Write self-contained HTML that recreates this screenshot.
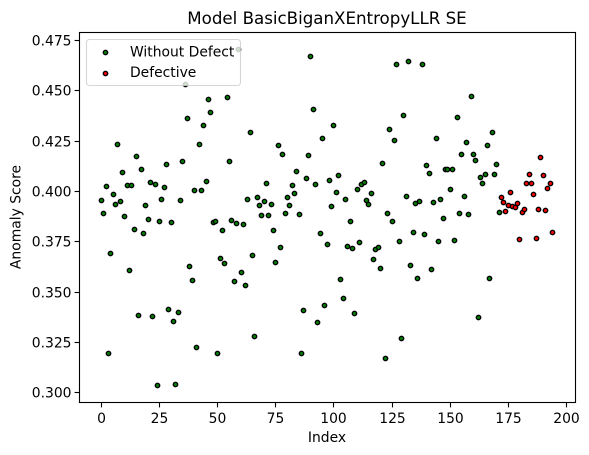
<!DOCTYPE html>
<html>
<head>
<meta charset="utf-8">
<style>
html,body{margin:0;padding:0;background:#fff;}
svg{display:block;}
text{font-family:"DejaVu Sans","Liberation Sans",sans-serif;fill:#000;}
</style>
</head>
<body>
<svg id="chart" xmlns="http://www.w3.org/2000/svg" width="589" height="455" viewBox="0 0 589 455">
  <text x="327" y="24" font-size="16.67" text-anchor="middle">Model BasicBiganXEntropyLLR SE</text>
  <text x="327" y="442" font-size="13.89" text-anchor="middle">Index</text>
  <text transform="translate(20.5,217) rotate(-90)" font-size="13.89" text-anchor="middle">Anomaly Score</text>
  <g id="ticks"></g>
  <g id="points"></g>
  <rect x="79.5" y="32.5" width="496" height="370" fill="none" stroke="#000" stroke-width="1.11"/>
  <g>
    <rect x="86.5" y="39.5" width="154" height="46" rx="3" ry="3" fill="#fff" fill-opacity="0.8" stroke="#ccc" stroke-opacity="0.8" stroke-width="1.11"/>
    <circle cx="105.5" cy="52.5" r="2.2" fill="#008000" stroke="#000" stroke-width="1.39"/>
    <text x="130" y="56.5" font-size="13.89">Without Defect</text>
    <circle cx="105.5" cy="73.5" r="2.2" fill="#ff0000" stroke="#000" stroke-width="1.39"/>
    <text x="130" y="77" font-size="13.89">Defective</text>
  </g>
</svg>
<script>
const withoutDefectScores = [
0.3954,0.3890,0.4024,0.3194,0.3691,0.3984,0.3934,0.4233,0.3949,0.4093,
0.3875,0.4029,0.3606,0.4029,0.3810,0.4173,0.3383,0.4108,0.3790,0.3929,
0.3860,0.4044,0.3378,0.4034,0.3035,0.3850,0.3959,0.4019,0.4133,0.3413,
0.3845,0.3353,0.3040,0.3398,0.3954,0.4148,0.4531,0.4362,0.3626,0.3557,
0.4004,0.3224,0.4233,0.4004,0.4327,0.4049,0.4456,0.4392,0.3845,0.3850,
0.3194,0.3666,0.3805,0.3641,0.4466,0.4148,0.3855,0.3552,0.3840,0.4706,
0.3596,0.3835,0.3532,0.3959,0.4292,0.3681,0.3278,0.3969,0.3929,0.3880,
0.3949,0.4039,0.3880,0.3934,0.3805,0.3646,0.4228,0.3721,0.4183,0.3890,
0.3969,0.3929,0.4029,0.3989,0.4098,0.3885,0.3194,0.3408,0.4064,0.4178,
0.4670,0.4407,0.4034,0.3348,0.3790,0.4262,0.3432,0.3736,0.4054,0.3924,
0.4327,0.3994,0.4079,0.3562,0.3467,0.3959,0.3726,0.3850,0.3716,0.3393,
0.4009,0.3746,0.4034,0.4044,0.3954,0.3934,0.3989,0.3661,0.3711,0.3721,
0.3616,0.4138,0.3169,0.3890,0.4307,0.3850,0.4252,0.4630,0.3750,0.3268,
0.4377,0.3974,0.4645,0.3631,0.3795,0.3939,0.3567,0.3949,0.4630,0.3785,
0.4128,0.4088,0.3611,0.3944,0.4262,0.3750,0.3959,0.3865,0.4108,0.4108,
0.4009,0.4108,0.3755,0.4367,0.3890,0.4183,0.3974,0.4243,0.3885,0.4471,
0.4183,0.4153,0.3373,0.4069,0.4039,0.4083,0.4228,0.3567,0.4292,0.4083,
0.4133,0.3895];
const defectiveScores = [
0.3969,0.3944,0.3900,0.3929,0.3994,0.3924,0.3919,0.3939,0.3760,0.3895,
0.3910,0.4039,0.4083,0.4039,0.3984,0.3765,0.3910,0.4168,0.4079,0.3905,
0.4014,0.4039,0.3795];
const xTickLabels = ["0","25","50","75","100","125","150","175","200"];
const yTickLabels = ["0.300","0.325","0.350","0.375","0.400","0.425","0.450","0.475"];

const NS = "http://www.w3.org/2000/svg";
function xScale(v){ return 101.55 + v * 2.3244; }
function yScale(v){ return 392.3 - (v - 0.3) * 2012; }
function snapX(v){ return Math.floor(xScale(v)) + 0.5; }
function snapY(v){ return Math.round(yScale(v)) + 0.5; }

const ticksGroup = document.getElementById("ticks");
const pointsGroup = document.getElementById("points");

xTickLabels.forEach(function(label){
  const px = snapX(Number(label));
  const line = document.createElementNS(NS, "line");
  
  
  line.setAttribute("x1", px); line.setAttribute("x2", px);
  line.setAttribute("y1", 402.5); line.setAttribute("y2", 407.4);
  line.setAttribute("stroke", "#000"); line.setAttribute("stroke-width", "1.11");
  ticksGroup.appendChild(line);
  const text = document.createElementNS(NS, "text");
  
  
  text.setAttribute("x", px); text.setAttribute("y", 423);
  text.setAttribute("font-size", "13.89"); text.setAttribute("text-anchor", "middle");
  text.textContent = label;
  ticksGroup.appendChild(text);
});

yTickLabels.forEach(function(label){
  const py = snapY(Number(label));
  const line = document.createElementNS(NS, "line");
  
  
  line.setAttribute("x1", 74.6); line.setAttribute("x2", 79.5);
  line.setAttribute("y1", py); line.setAttribute("y2", py);
  line.setAttribute("stroke", "#000"); line.setAttribute("stroke-width", "1.11");
  ticksGroup.appendChild(line);
  const text = document.createElementNS(NS, "text");
  
  
  text.setAttribute("x", 71.5); text.setAttribute("y", py + 5);
  text.setAttribute("font-size", "13.89"); text.setAttribute("text-anchor", "end");
  text.textContent = label;
  ticksGroup.appendChild(text);
});

withoutDefectScores.forEach(function(score, i){
  const dot = document.createElementNS(NS, "circle");
  
  
  dot.setAttribute("cx", snapX(i)); dot.setAttribute("cy", snapY(score));
  dot.setAttribute("r", "2.2"); dot.setAttribute("fill", "#008000");
  dot.setAttribute("stroke", "#000"); dot.setAttribute("stroke-width", "1.39");
  pointsGroup.appendChild(dot);
});

defectiveScores.forEach(function(score, i){
  const dot = document.createElementNS(NS, "circle");
  
  
  dot.setAttribute("cx", snapX(withoutDefectScores.length + i)); dot.setAttribute("cy", snapY(score));
  dot.setAttribute("r", "2.2"); dot.setAttribute("fill", "#ff0000");
  dot.setAttribute("stroke", "#000"); dot.setAttribute("stroke-width", "1.39");
  pointsGroup.appendChild(dot);
});
</script>
</body>
</html>
